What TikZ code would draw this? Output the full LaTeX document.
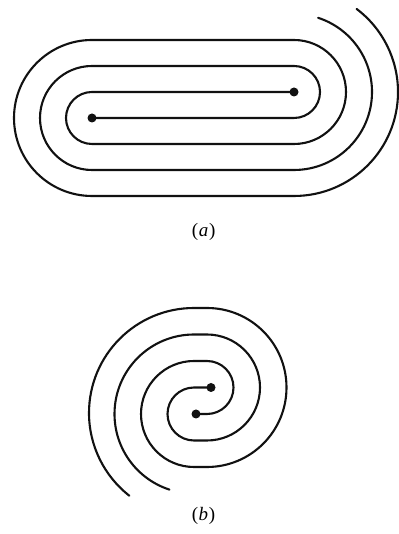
\documentclass[tikz,border=0pt]{standalone}
\usepackage{fontspec}
\setmainfont{Liberation Serif}
\usepackage{xcolor}
\usepackage{tikz}
\usetikzlibrary{
  calc,
  positioning
}
\definecolor{spInk}{HTML}{111111}
\tikzset{
  spiral/.style={draw=spInk, line width=2.1pt, line cap=round, line join=round},
  endpoint/.style={circle, fill=spInk, inner sep=0pt, minimum size=9pt},
  caption/.style={font=\fontsize{19}{21}\selectfont, inner sep=0pt}
}
\newcommand{\sublabel}[1]{(\kern0.5pt\textit{#1}\kern0.8pt)}

\begin{document}
\begin{tikzpicture}[x=1pt, y=1pt]
  \useasboundingbox (0,0) rectangle (398,534);
  % (a) two interleaved stadium spirals
  \coordinate (L) at (92,416);
  \coordinate (R) at (294,442);
  \draw[spiral] (L) -- (294,416) arc[start angle=-90, end angle=90, radius=26]
    -- (92,468) arc[start angle=90, end angle=270, radius=52]
    -- (294,364) arc[start angle=-90, end angle=72, radius=78];
  \draw[spiral] (R) -- (92,442) arc[start angle=90, end angle=270, radius=26]
    -- (294,390) arc[start angle=-90, end angle=90, radius=52]
    -- (92,494) arc[start angle=90, end angle=270, radius=78]
    -- (294,338) arc[start angle=-90, end angle=53, radius=104];
  \node[endpoint] (ldot) at (L) {};
  \node[endpoint] (rdot) at (R) {};
  \node[caption] (capa) at (203.7,302.5) {\sublabel{a}};
  % (b) the same with short straights
  \coordinate (Lb) at (194,120);
  \coordinate (Rb) at (207,146.5);
  \coordinate (D) at (196,120);
  \coordinate (U) at (211,146.5);
  \draw[spiral] (D) -- (207,120) arc[start angle=-90, end angle=90, radius=26.5]
    -- (194,173) arc[start angle=90, end angle=270, radius=53]
    -- (207,67) arc[start angle=-90, end angle=90, radius=79.5]
    -- (194,226) arc[start angle=90, end angle=232, radius=105];
  \draw[spiral] (U) -- (194,146.5) arc[start angle=90, end angle=270, radius=26.5]
    -- (207,93.5) arc[start angle=-90, end angle=90, radius=53]
    -- (194,199.5) arc[start angle=90, end angle=252, radius=79.5];
  \node[endpoint] (udot) at (U) {};
  \node[endpoint] (ddot) at (D) {};
  \node[caption] (capb) at (203.5,18) {\sublabel{b}};
\end{tikzpicture}
\end{document}
